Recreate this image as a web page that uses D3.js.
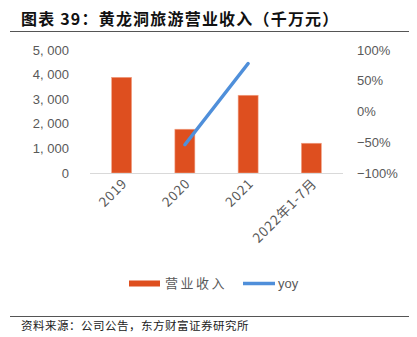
<!DOCTYPE html>
<html>
<head>
<meta charset="utf-8">
<script src="https://cdn.jsdelivr.net/npm/d3@7"></script>
<style>
  html, body { margin: 0; padding: 0; background: #fff; }
  svg { display: block; }
</style>
</head>
<body>
<script>
// Revenue (ten-million yuan) and year-over-year growth
const categories = ["2019", "2020", "2021", "2022年1-7月"];
const revenue = [3890, 1780, 3160, 1210];
const yoy = [null, -0.54, 0.78, null];
const leftTicks = [0, 1000, 2000, 3000, 4000, 5000];
const rightTicks = [-1, -0.5, 0, 0.5, 1];

const W = 417, H = 337;
const svg = d3.select("body").append("svg").attr("width", W).attr("height", H);

const cjk = "'Noto Sans CJK SC', 'Noto Sans', sans-serif";
const latin = "'Liberation Sans', Arial, sans-serif";
const grey = "#595959";
const orange = "#DE4F1F";
const blue = "#4F8FDA";

// Title and rules
svg.append("text")
  .attr("x", 21).attr("y", 25)
  .attr("font-family", cjk).attr("font-weight", "bold")
  .attr("font-size", 16).attr("letter-spacing", 1.2).attr("fill", "#111")
  .text("图表 39：黄龙洞旅游营业收入（千万元）");
svg.append("line").attr("x1", 10).attr("x2", 409).attr("y1", 31.5).attr("y2", 31.5)
  .attr("stroke", "#555").attr("stroke-width", 1);
svg.append("line").attr("x1", 10).attr("x2", 409).attr("y1", 316.5).attr("y2", 316.5)
  .attr("stroke", "#555").attr("stroke-width", 1);
svg.append("text")
  .attr("x", 21).attr("y", 330)
  .attr("font-family", cjk).attr("font-size", 11.5).attr("letter-spacing", 0.5).attr("fill", "#222")
  .text("资料来源：公司公告，东方财富证券研究所");

// Scales
const x = d3.scaleBand().domain(categories).range([90, 343])
  .paddingInner(0.684).paddingOuter(0.342);
const yL = d3.scaleLinear().domain([0, 5000]).range([173, 50]);
const yR = d3.scaleLinear().domain([-1, 1]).range([173, 50]);

// Left axis
const leftAxis = svg.append("g").attr("transform", "translate(69,0)")
  .call(d3.axisLeft(yL).tickValues(leftTicks).tickSize(0).tickPadding(0)
    .tickFormat(d => d3.format(",")(d).replace(",", ", ")));
leftAxis.select(".domain").remove();
leftAxis.selectAll("text").attr("font-family", latin).attr("font-size", 13).attr("fill", grey);

// Right axis
const rightAxis = svg.append("g").attr("transform", "translate(357,0)")
  .call(d3.axisRight(yR).tickValues(rightTicks).tickSize(0).tickPadding(0)
    .tickFormat(d => (d < 0 ? "\u2212" : "") + Math.round(Math.abs(d) * 100) + "%"));
rightAxis.select(".domain").remove();
rightAxis.selectAll("text").attr("font-family", latin).attr("font-size", 13).attr("fill", grey);

// Bars
svg.append("g").selectAll("rect").data(categories).join("rect")
  .attr("x", d => x(d))
  .attr("width", x.bandwidth())
  .attr("y", (d, i) => yL(revenue[i]))
  .attr("height", (d, i) => yL(0) - yL(revenue[i]))
  .attr("fill", orange)
  .attr("stroke", "#F2A489").attr("stroke-width", 0.6);

// Baseline
svg.append("line").attr("x1", 90).attr("x2", 343)
  .attr("y1", yL(0) + 0.5).attr("y2", yL(0) + 0.5)
  .attr("stroke", "#D9D9D9").attr("stroke-width", 1);

// Growth line
const line = d3.line()
  .defined(d => d.v !== null)
  .x(d => x(d.c) + x.bandwidth() / 2)
  .y(d => yR(d.v));
svg.append("path")
  .datum(categories.map((c, i) => ({ c, v: yoy[i] })))
  .attr("d", line)
  .attr("fill", "none").attr("stroke", blue)
  .attr("stroke-width", 3.5).attr("stroke-linecap", "round");

// Category labels
svg.append("g").selectAll("text").data(categories).join("text")
  .attr("transform", d => `translate(${x(d) + x.bandwidth() / 2 + 3},${181}) rotate(-45)`)
  .attr("text-anchor", "end")
  .attr("dy", "0.35em")
  .attr("font-family", cjk).attr("font-size", 13.5).attr("letter-spacing", 0.8).attr("fill", grey)
  .text(d => d);

// Legend
const lg = svg.append("g");
lg.append("rect").attr("x", 129).attr("y", 280.5).attr("width", 31).attr("height", 6).attr("fill", orange);
lg.append("text").attr("x", 165).attr("y", 288)
  .attr("font-family", cjk).attr("font-size", 13).attr("fill", grey)
  .attr("letter-spacing", 2.5).text("营业收入");
lg.append("line").attr("x1", 243).attr("x2", 275).attr("y1", 283.5).attr("y2", 283.5)
  .attr("stroke", blue).attr("stroke-width", 3.5);
lg.append("text").attr("x", 278).attr("y", 288)
  .attr("font-family", latin).attr("font-size", 13).attr("fill", grey).text("yoy");
</script>
</body>
</html>
